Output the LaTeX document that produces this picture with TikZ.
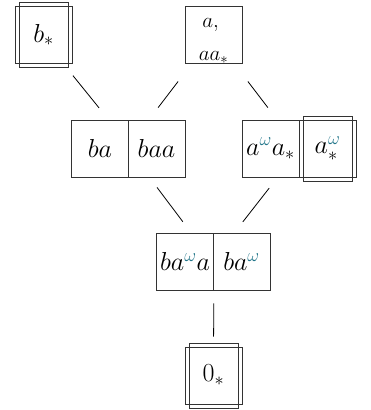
\RequirePackage{fix-cm}
\documentclass[tikz,border=0pt]{standalone}
\usetikzlibrary{calc}
\definecolor{omegacol}{RGB}{34,118,138}
\newcommand{\om}{{\color{omegacol}\omega}}
\begin{document}
\begin{tikzpicture}[x=1pt,y=-1pt,
  cell/.style={draw=black!80,line width=0.9pt,minimum width=57pt,minimum height=57pt,inner sep=0pt,font=\fontsize{26}{30}\selectfont},
  innerbox/.style={draw=black!80,line width=0.9pt,minimum width=49pt,minimum height=65pt,inner sep=0pt},
  conn/.style={draw=black,line width=0.8pt}]
\useasboundingbox (0,0) rectangle (370,410);
% top row
\node[cell] (bs) at (43.5,35) {$b_*$};
\node[innerbox] (bsx) at (bs.center) {};
\node[cell,font=\fontsize{21}{24}\selectfont] (aa) at (213.5,35)
  {\raisebox{-9pt}[0pt][0pt]{\begin{tabular}{@{}l@{}}$\,a,$\\[9pt]$aa_*$\end{tabular}}};
% middle row
\node[cell] (ba) at (100,148.5) {$ba$};
\node[cell] (baa) at (156.5,148.5) {$baa$};
\node[cell] (aw) at (270.5,148.5) {$a^{\om}a_*$};
\node[cell] (aws) at (327.5,148.5) {$a^{\om}_*$};
\node[innerbox] (awsx) at (aws.center) {};
% third row
\node[cell] (r3a) at (185,261.5) {$ba^{\om}a$};
\node[cell] (r3b) at (241.5,261.5) {$ba^{\om}$};
% bottom
\node[cell] (zero) at (213.5,375.5) {$0_*$};
\node[innerbox] (zerox) at (zero.center) {};
% connectors
\draw[conn,shorten <=15pt,shorten >=15pt] ($(bs.south)+(20,0)$) -- ($(ba.north)+(8.5,0)$);
\draw[conn,shorten <=22pt,shorten >=15pt] ($(aa.south)+(-22,0)$) -- ($(baa.north)+(-7.5,0)$);
\draw[conn,shorten <=22pt,shorten >=15pt] ($(aa.south)+(21,0)$) -- ($(aw.north)+(6.5,0)$);
\draw[conn,shorten <=12.5pt,shorten >=13.5pt] ($(baa.south)+(-7,0)$) -- ($(r3a.north)+(6,0)$);
\draw[conn,shorten <=13.5pt,shorten >=13.5pt] ($(aw.south)+(7,0)$) -- ($(r3b.north)+(-7,0)$);
\draw[conn,shorten <=13pt,shorten >=10pt] (r3a.south east) -- (zero.north);
\end{tikzpicture}
\end{document}
